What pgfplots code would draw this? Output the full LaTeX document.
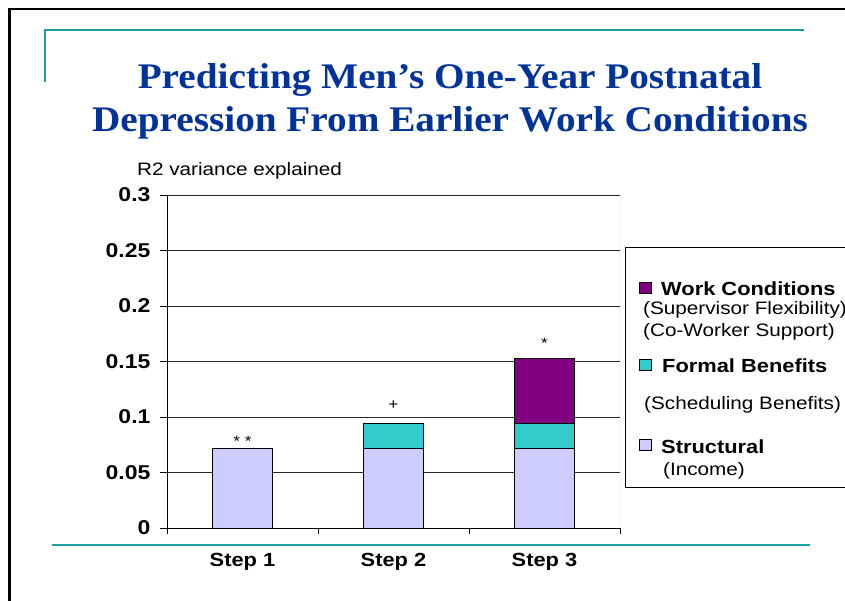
\documentclass[border=0pt]{standalone}
\usepackage{pgfplots}
\pgfplotsset{compat=1.18}
\usepackage{fontspec}
\setmainfont{Liberation Sans}[FakeStretch=1.15]
\newfontfamily\titlefont{Liberation Serif}[FakeStretch=1.09]
\definecolor{lav}{RGB}{204,204,255}
\definecolor{tealbar}{RGB}{51,204,204}
\definecolor{purp}{RGB}{128,0,128}
\definecolor{deco}{RGB}{30,160,160}
\definecolor{titleblue}{RGB}{0,51,153}
\begin{document}
\begin{tikzpicture}
\path[use as bounding box] (0,0) rectangle (845pt,-601pt);
\clip (0,0) rectangle (845pt,-601pt);
\fill[white] (0,0) rectangle (845pt,-601pt);
\begin{scope}[x=1pt,y=-1pt]
\draw[line width=2.5pt] (9.5,610) -- (9.5,9) -- (850,9);
\draw[deco, line width=2pt] (45,82) -- (45,30) -- (804,30);
\draw[deco, line width=2pt] (52,544.5) -- (810,544.5);
\node[font=\titlefont\bfseries\fontsize{36}{40}\selectfont, text=titleblue, anchor=base, inner sep=0] at (450,88.5) {Predicting Men’s One-Year Postnatal};
\node[font=\titlefont\bfseries\fontsize{36}{40}\selectfont, text=titleblue, anchor=base, inner sep=0] at (450,132) {Depression From Earlier Work Conditions};
\node[font=\fontsize{18}{20}\selectfont, anchor=base west, inner sep=0] at (137,176) {R2 variance explained};
% legend
\draw[black, line width=0.8pt] (625,247) rectangle (870,487);
\filldraw[fill=purp, draw=black, line width=0.5pt] (639.5,282) rectangle (651.5,293.5);
\filldraw[fill=tealbar, draw=black, line width=0.5pt] (639.5,359) rectangle (651.5,370.5);
\filldraw[fill=lav, draw=black, line width=0.5pt] (639.5,439) rectangle (651.5,450.5);
\node[font=\bfseries\fontsize{19}{20}\selectfont, anchor=base west, inner sep=0] at (661,295) {Work Conditions};
\node[font=\fontsize{18}{20}\selectfont, anchor=base west, inner sep=0] at (643,314) {(Supervisor Flexibility)};
\node[font=\fontsize{18}{20}\selectfont, anchor=base west, inner sep=0] at (643,336.5) {(Co-Worker Support)};
\node[font=\bfseries\fontsize{19}{20}\selectfont, anchor=base west, inner sep=0] at (662,372.5) {Formal Benefits};
\node[font=\fontsize{18}{20}\selectfont, anchor=base west, inner sep=0] at (644,409) {(Scheduling Benefits)};
\node[font=\bfseries\fontsize{19}{20}\selectfont, anchor=base west, inner sep=0] at (661,453) {Structural};
\node[font=\fontsize{18}{20}\selectfont, anchor=base west, inner sep=0] at (663,475) {(Income)};
\end{scope}
\begin{axis}[
  at={(167pt,-528pt)}, anchor=south west,
  scale only axis, width=453pt, height=333pt,
  xmin=-0.5, xmax=2.5, ymin=0, ymax=0.3,
  ybar stacked, bar width=60pt,
  axis x line*=bottom, axis y line*=left,
  axis line style={black, line width=0.8pt},
  ytick={0,0.05,0.1,0.15,0.2,0.25,0.3},
  yticklabels={0,0.05,0.1,0.15,0.2,0.25,0.3},
  xtick={0,1,2},
  xticklabels={Step 1,Step 2,Step 3},
  minor xtick={-0.5,0.5,1.5,2.5},
  tick align=outside,
  major tick length=7pt, minor tick length=6pt,
  every major x tick/.append style={draw=none},
  tick style={black, line width=0.6pt},
  ymajorgrids,
  major grid style={black!85, line width=0.8pt},
  yticklabel style={font=\bfseries\fontsize{20}{22}\selectfont, xshift=-6pt},
  xticklabel style={font=\bfseries\fontsize{19}{20}\selectfont, yshift=-15pt},
]
\addplot[fill=lav, draw=black, line width=0.7pt] coordinates {(0,0.072) (1,0.072) (2,0.072)};
\addplot[fill=tealbar, draw=black, line width=0.7pt] coordinates {(0,0) (1,0.022) (2,0.022)};
\addplot[fill=purp, draw=black, line width=0.7pt] coordinates {(0,0) (1,0) (2,0.059)};
\draw[gray!70, line width=0.8pt] (rel axis cs:1,0) -- (rel axis cs:1,1);
\node[anchor=base, font=\fontsize{15}{16}\selectfont, inner sep=0] at (axis cs:0,0.073) {* *};
\node[anchor=base, font=\fontsize{15}{16}\selectfont, inner sep=0] at (axis cs:1,0.1065) {+};
\node[anchor=base, font=\fontsize{15}{16}\selectfont, inner sep=0] at (axis cs:2,0.162) {*};
\end{axis}
\end{tikzpicture}
\end{document}
